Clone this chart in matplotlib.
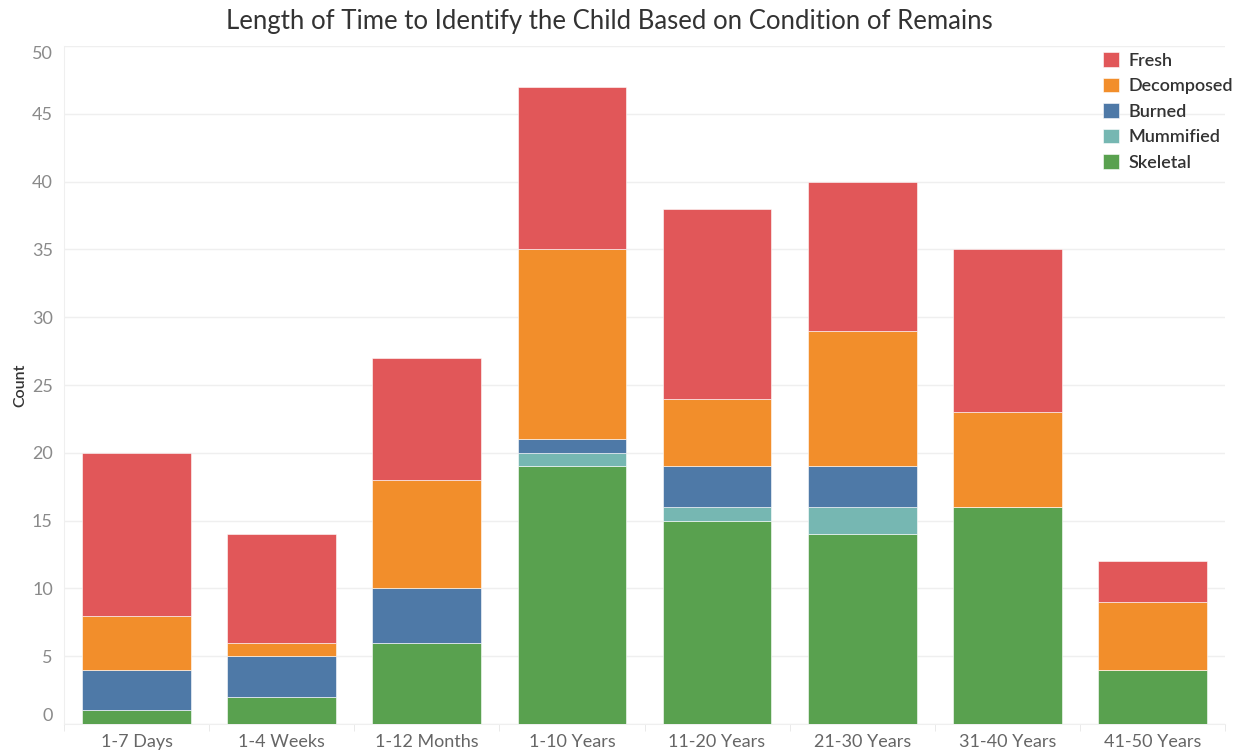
import matplotlib.pyplot as plt
import numpy as np

plt.rcParams['font.family'] = ['Lato', 'DejaVu Sans']

# Categories and counts per condition
periods = ['1-7 Days', '1-4 Weeks', '1-12 Months', '1-10 Years',
           '11-20 Years', '21-30 Years', '31-40 Years', '41-50 Years']
skeletal = [1, 2, 6, 19, 15, 14, 16, 4]
mummified = [0, 0, 0, 1, 1, 2, 0, 0]
burned = [3, 3, 4, 1, 3, 3, 0, 0]
decomposed = [4, 1, 8, 14, 5, 10, 7, 5]
fresh = [12, 8, 9, 12, 14, 11, 12, 3]

series = [
    ('Skeletal', skeletal, '#59a14f'),
    ('Mummified', mummified, '#76b7b2'),
    ('Burned', burned, '#4e79a7'),
    ('Decomposed', decomposed, '#f28e2b'),
    ('Fresh', fresh, '#e15759'),
]

fig = plt.figure(figsize=(12.41, 7.53), dpi=100)
ax = fig.add_axes([64 / 1241, 1 - 724 / 753, (1225 - 64) / 1241, (724 - 46) / 753])

x = np.arange(len(periods))
bottom = np.zeros(len(periods))
handles = {}
for name, vals, color in series:
    vals = np.array(vals, dtype=float)
    h = ax.bar(x, vals, width=0.75, bottom=bottom, color=color, edgecolor='white',
               linewidth=0.4, zorder=3)
    handles[name] = h
    bottom += vals

ax.set_xlim(-0.5, len(periods) - 0.5)
ax.set_ylim(0, 50)
ax.set_yticks(range(0, 51, 5))
ax.yaxis.grid(True, color='#efefef', linewidth=1, zorder=0)
ax.tick_params(axis='y', length=0, labelsize=13, labelcolor='#8a8a8a', pad=8)
ax.set_xticks(x)
ax.set_xticklabels(periods)
ax.tick_params(axis='x', length=0, labelsize=13, labelcolor='#666666', pad=7)
# small separators between categories below the axis
ax.set_xticks(np.arange(len(periods) + 1) - 0.5, minor=True)
ax.tick_params(axis='x', which='minor', length=5, color='#e6e6e6')

for lab in ax.get_yticklabels():
    if lab.get_text() == '0':
        lab.set_va('bottom')
    elif lab.get_text() == '50':
        lab.set_va('top')

for side in ['top', 'right']:
    ax.spines[side].set_visible(False)
ax.spines['left'].set_color('#efefef')
ax.spines['bottom'].set_color('#efefef')

ax.set_ylabel('Count', fontsize=11.5, color='#333333', fontweight='semibold', labelpad=3)
fig.suptitle('Length of Time to Identify the Child Based on Condition of Remains',
             x=0.491, y=0.988, fontsize=18.5, color='#333333')

order = ['Fresh', 'Decomposed', 'Burned', 'Mummified', 'Skeletal']
fig.legend([handles[n] for n in order], order, loc='upper left',
           bbox_to_anchor=(1096 / 1241, 1 - 45 / 753), frameon=False,
           prop={'size': 13, 'weight': 'semibold'}, labelcolor='#333333',
           handlelength=0.85, handleheight=0.85,
           handletextpad=0.55, labelspacing=0.5, borderaxespad=0)

fig.savefig('out.png', dpi=100, facecolor='white')
